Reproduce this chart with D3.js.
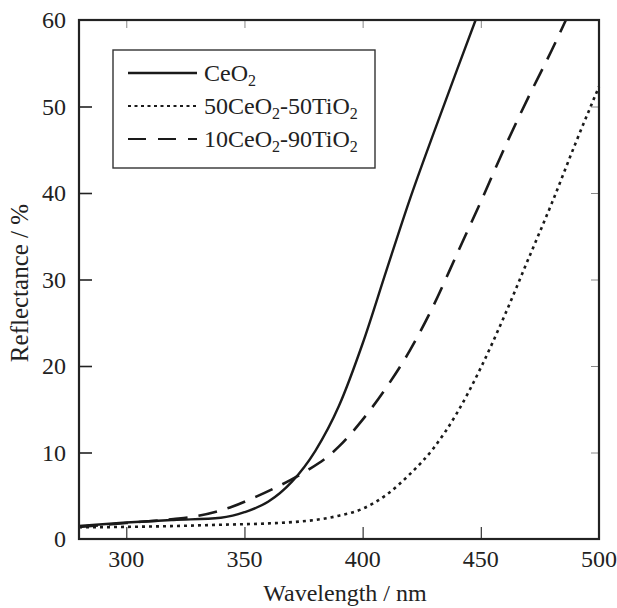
<!DOCTYPE html>
<html>
<head>
<meta charset="utf-8">
<script src="https://cdn.jsdelivr.net/npm/d3@7"></script>
<style>
  body { margin: 0; background: #fff; }
  svg { display: block; }
  text { font-family: "Liberation Serif", "DejaVu Serif", serif; fill: #222; }
</style>
</head>
<body>
<svg id="chart" width="617" height="608"></svg>
<script>
// values
const xTicks = [300, 350, 400, 450, 500];
const yTicks = [0, 10, 20, 30, 40, 50, 60];

const ceo2 = [
  [280, 1.5], [300, 1.9], [320, 2.2], [340, 2.46], [345, 2.7], [350, 3.1],
  [360, 4.3], [370, 6.6], [380, 10.2], [390, 15.4], [400, 22.6], [410, 31.0],
  [420, 39.3], [430, 46.9], [440, 54.3], [447.8, 60]
];
const ceTi50 = [
  [280, 1.35], [300, 1.4], [320, 1.5], [340, 1.65], [360, 1.8], [370, 1.95],
  [380, 2.2], [390, 2.7], [400, 3.5], [410, 5.1], [420, 7.5], [430, 10.5],
  [440, 14.6], [450, 19.8], [460, 25.8], [470, 32.3], [480, 38.8], [490, 45.7],
  [500, 52.3]
];
const ceTi10 = [
  [280, 1.4], [300, 1.85], [320, 2.3], [330, 2.65], [338, 3.15], [345, 3.75],
  [355, 4.9], [364, 6.05], [370, 6.9], [377, 8.0], [386, 9.7], [390, 10.7],
  [400, 13.8], [410, 17.5], [420, 21.8], [430, 27.0], [440, 33.0], [450, 39.0],
  [460, 45.2], [470, 51.0], [480, 56.5], [486, 60]
];

const seriesNames = ["CeO", "50CeO-50TiO", "10CeO-90TiO"];

const svg = d3.select("#chart");
const m = { left: 79, right: 599, top: 20, bottom: 539 };

const x = d3.scaleLinear().domain([280, 500]).range([m.left, m.right]);
const y = d3.scaleLinear().domain([0, 60]).range([m.bottom, m.top]);

const line = d3.line()
  .x(d => x(d[0]))
  .y(d => y(d[1]))
  .curve(d3.curveMonotoneX);

const styles = [
  { dash: null, width: 2.4 },
  { dash: "3,4", width: 2.6 },
  { dash: "19,11", width: 2.6 }
];

// curves
[ceo2, ceTi50, ceTi10].forEach((s, i) => {
  svg.append("path")
    .datum(s)
    .attr("d", line)
    .attr("fill", "none")
    .attr("stroke", "#1a1a1a")
    .attr("stroke-width", styles[i].width)
    .attr("stroke-dasharray", styles[i].dash);
});

// inward ticks, bottom and left
const bottomAxis = d3.axisBottom(x).tickValues(xTicks.filter(v => v < 500))
  .tickSize(-12).tickFormat("");
svg.append("g").attr("transform", `translate(0,${m.bottom})`).call(bottomAxis)
  .call(g => g.select(".domain").remove())
  .call(g => g.selectAll("line").attr("stroke", "#333").attr("stroke-width", 1.2));

const leftAxis = d3.axisLeft(y).tickValues(yTicks.filter(v => v > 0 && v < 60))
  .tickSize(-13).tickFormat("");
svg.append("g").attr("transform", `translate(${m.left},0)`).call(leftAxis)
  .call(g => g.select(".domain").remove())
  .call(g => g.selectAll("line").attr("stroke", "#222").attr("stroke-width", 1.6));

// faint mirror ticks on top and right
const topAxis = d3.axisTop(x).tickValues(xTicks.filter(v => v < 500))
  .tickSize(-8).tickFormat("");
svg.append("g").attr("transform", `translate(0,${m.top})`).call(topAxis)
  .call(g => g.select(".domain").remove())
  .call(g => g.selectAll("line").attr("stroke", "#888").attr("stroke-width", 1));

const rightAxis = d3.axisRight(y).tickValues(yTicks.filter(v => v > 0 && v < 60))
  .tickSize(-8).tickFormat("");
svg.append("g").attr("transform", `translate(${m.right},0)`).call(rightAxis)
  .call(g => g.select(".domain").remove())
  .call(g => g.selectAll("line").attr("stroke", "#888").attr("stroke-width", 1));

// frame
svg.append("rect")
  .attr("x", m.left).attr("y", m.top)
  .attr("width", m.right - m.left).attr("height", m.bottom - m.top)
  .attr("fill", "none").attr("stroke", "#222").attr("stroke-width", 2.2);

// tick labels
svg.append("g").selectAll("text")
  .data(xTicks)
  .join("text")
  .attr("x", d => x(d))
  .attr("y", 567)
  .attr("text-anchor", "middle")
  .attr("font-size", 24)
  .text(d => d);

svg.append("g").selectAll("text")
  .data(yTicks)
  .join("text")
  .attr("x", 66)
  .attr("y", d => y(d) + 8)
  .attr("text-anchor", "end")
  .attr("font-size", 24)
  .text(d => d);

// axis titles
svg.append("text")
  .attr("x", 345).attr("y", 601)
  .attr("text-anchor", "middle")
  .attr("font-size", 24)
  .text("Wavelength / nm");

svg.append("text")
  .attr("transform", "translate(28,283) rotate(-90)")
  .attr("text-anchor", "middle")
  .attr("font-size", 25)
  .text("Reflectance / %");

// legend
const legend = svg.append("g");
legend.append("rect")
  .attr("x", 113).attr("y", 50)
  .attr("width", 262).attr("height", 118)
  .attr("fill", "#fff").attr("stroke", "#333").attr("stroke-width", 1.4);

const rowY = [73, 106, 139];
const legendLabels = [
  ["CeO", "2"],
  ["50CeO", "2", "-50TiO", "2"],
  ["10CeO", "2", "-90TiO", "2"]
];

seriesNames.forEach((name, i) => {
  legend.append("line")
    .attr("x1", 128).attr("x2", 197)
    .attr("y1", rowY[i]).attr("y2", rowY[i])
    .attr("stroke", "#1a1a1a")
    .attr("stroke-width", i === 0 ? 2.4 : 2.2)
    .attr("stroke-dasharray", i === 1 ? "3,3.5" : i === 2 ? "18,12" : null);

  const t = legend.append("text")
    .attr("x", 204).attr("y", rowY[i] + 8)
    .attr("font-size", 24);
  legendLabels[i].forEach((part, j) => {
    const ts = t.append("tspan").text(part);
    if (j % 2 === 1) {
      ts.attr("font-size", 16).attr("dy", 5);
    } else if (j > 0) {
      ts.attr("dy", -5);
    }
  });
});
</script>
</body>
</html>
